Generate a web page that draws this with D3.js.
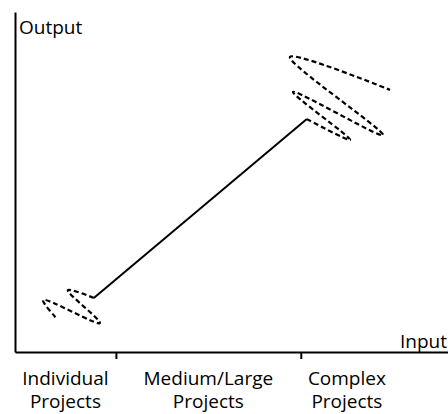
<!DOCTYPE html>
<html lang="en">
<head>
  <meta charset="UTF-8">
  <title>Output vs Input</title>
  <style>
    body { margin: 0; background: #fff; }
    text { font-family: "Open Sans", sans-serif; font-size: 19px; fill: #000; }
  </style>
</head>
<body>
  <script src="https://d3js.org/d3.v7.min.js"></script>
  <div id="chart"></div>

  <script>
    // category bands along the input axis (input units 0-100)
    const categoryTop = ['Individual', 'Medium/Large', 'Complex']
    const categoryBottom = ['Projects', 'Projects', 'Projects']
    const bandEdges = [0, 23.3, 66, 87.3]

    // dashed wiggle near the small end (input, output)
    const lowInput = [18.2, 12.2, 19.6, 6.5, 9.5]
    const lowOutput = [15.9, 18.2, 8.5, 15.3, 10.0]

    // solid trend line
    const trendInput = [18.2, 67.4]
    const trendOutput = [15.9, 68.5]

    // dashed wiggle near the large end
    const highInput = [67.4, 77.4, 64.2, 85.0, 63.5, 86.6]
    const highOutput = [68.5, 62.4, 76.5, 63.8, 86.8, 77.1]

    const width = 448, height = 414

    const x = d3.scaleLinear().domain([0, 100]).range([15, 448])
    const y = d3.scaleLinear().domain([0, 100]).range([352, 12])

    const svg = d3.select('#chart')
      .append('svg')
      .attr('width', width)
      .attr('height', height)

    // axes
    const xAxis = svg.append('g')
      .attr('transform', `translate(0, ${y(0)})`)
      .call(d3.axisBottom(x)
        .tickValues(bandEdges.slice(1, 3))
        .tickFormat('')
        .tickSize(7)
        .tickSizeOuter(0))
    xAxis.select('.domain').attr('stroke-width', 2)
    xAxis.selectAll('.tick line').attr('stroke-width', 2)

    const yAxis = svg.append('g')
      .attr('transform', `translate(${x(0)}, 0)`)
      .call(d3.axisLeft(y).tickValues([]).tickSizeOuter(0))
    yAxis.select('.domain').attr('stroke-width', 2)

    svg.append('text')
      .attr('x', x(0) + 4)
      .attr('y', 34)
      .text('Output')

    svg.append('text')
      .attr('x', 447)
      .attr('y', 348)
      .attr('text-anchor', 'end')
      .text('Input')

    // category labels, centred in each band
    const bandMid = i => (x(bandEdges[i]) + x(bandEdges[i + 1])) / 2

    svg.selectAll('.cat-top')
      .data(categoryTop)
      .join('text')
      .attr('class', 'cat-top')
      .attr('text-anchor', 'middle')
      .attr('x', (d, i) => bandMid(i))
      .attr('y', 385)
      .text(d => d)

    svg.selectAll('.cat-bottom')
      .data(categoryBottom)
      .join('text')
      .attr('class', 'cat-bottom')
      .attr('text-anchor', 'middle')
      .attr('x', (d, i) => bandMid(i))
      .attr('y', 408)
      .text(d => d)

    const line = d3.line()
      .x(d => x(d[0]))
      .y(d => y(d[1]))

    const wiggle = d3.line()
      .x(d => x(d[0]))
      .y(d => y(d[1]))
      .curve(d3.curveCatmullRom.alpha(0.5))

    svg.append('path')
      .datum(d3.zip(trendInput, trendOutput))
      .attr('d', line)
      .attr('fill', 'none')
      .attr('stroke', '#000')
      .attr('stroke-width', 2)

    svg.selectAll('.wiggle')
      .data([d3.zip(lowInput, lowOutput), d3.zip(highInput, highOutput)])
      .join('path')
      .attr('class', 'wiggle')
      .attr('d', wiggle)
      .attr('fill', 'none')
      .attr('stroke', '#000')
      .attr('stroke-width', 2.2)
      .attr('stroke-dasharray', '5,3')
  </script>
</body>
</html>
